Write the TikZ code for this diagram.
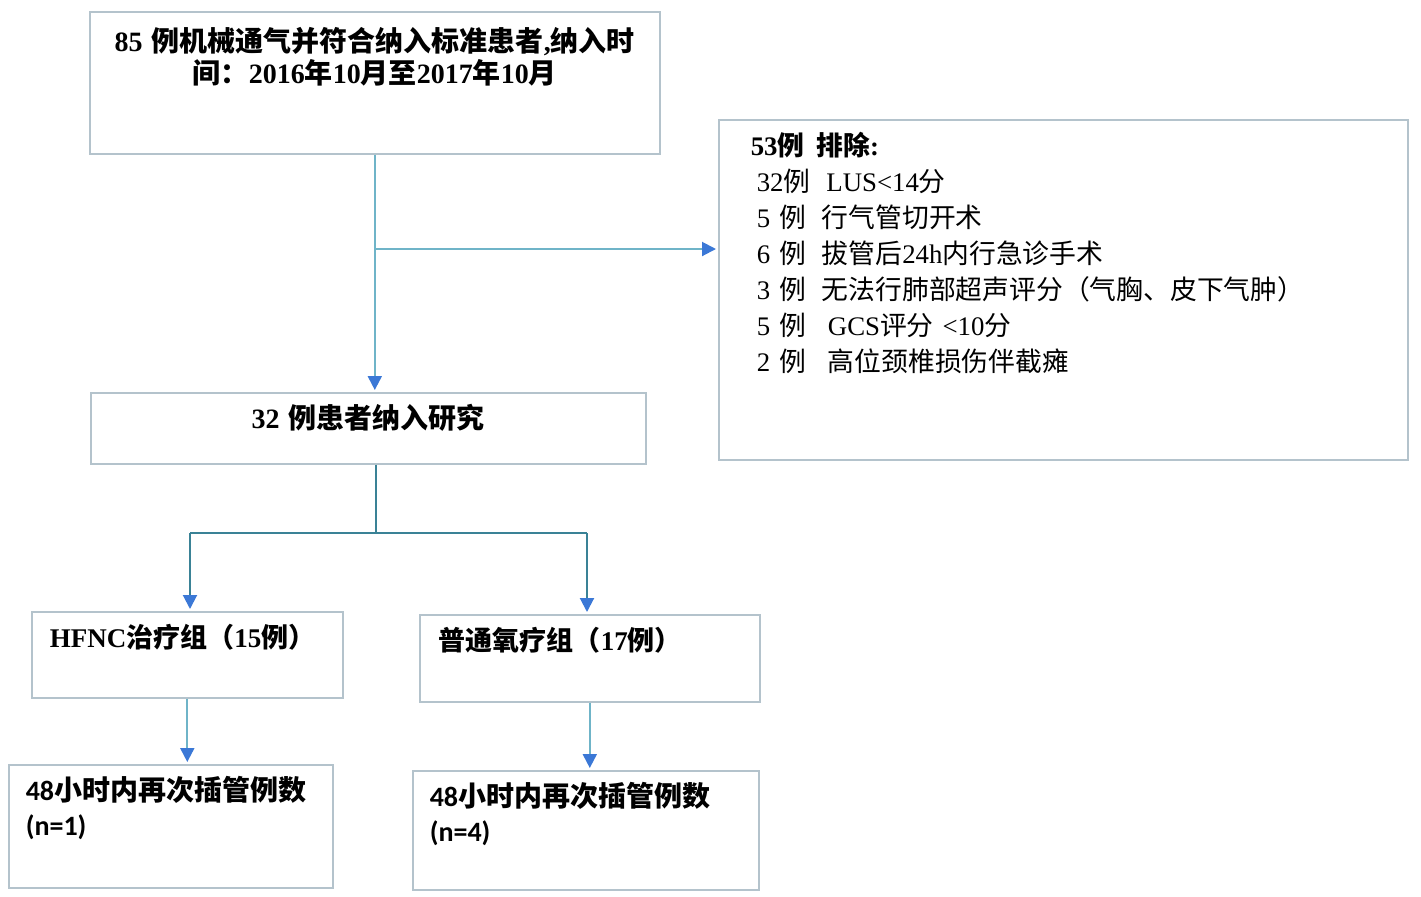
\documentclass[tikz,border=0pt]{standalone}
\usepackage{fontspec}
\usepackage{tikz}
\usetikzlibrary{arrows.meta}
\setmainfont{Liberation Serif}
\newfontfamily\cjk{Noto Sans CJK SC}
\newfontfamily\calib{Carlito}
\newcommand{\zh}[1]{{\cjk #1}}
\definecolor{boxgray}{HTML}{B4C3CC}
\definecolor{lineteal}{HTML}{6FB4C8}
\definecolor{linedark}{HTML}{3A8296}
\definecolor{tipblue}{HTML}{3B78D6}

\begin{document}
\begin{tikzpicture}[x=0.5pt, y=-0.5pt,
            every node/.style = {shape=rectangle, draw=boxgray, line width=0.8pt,
                                 anchor=north west, inner ysep=0pt, text height=18pt},
            flow/.style = {line width=1pt, shorten >=1pt,
                           -{Triangle[width=7pt,length=7pt,color=tipblue]}}]
            \useasboundingbox (0,0) rectangle (1421,896);
            \node (n85) [text width=275pt, inner xsep=5pt, align=center,
                         text height=20pt, text depth=51pt,
                         font=\fontsize{14}{16}\selectfont\bfseries] at (89,11)
                {85 \zh{例机械通气并符合纳入标准患者},\zh{纳入时}\\
                 \zh{间：}2016\zh{年}10\zh{月至}2017\zh{年}10\zh{月}};
            \node (nex) [text width=312.5pt, inner xsep=16pt, align=left,
                         text depth=152pt, font=\fontsize{13.4}{18}\selectfont] at (718,119)
                {{\bfseries 53\zh{例}\hspace{6pt}\zh{排除}:}\\
                 \hspace*{3pt}32\zh{例}\hspace{8pt}LUS<14\zh{分}\\
                 \hspace*{3pt}5 \zh{例}\hspace{8pt}\zh{行气管切开术}\\
                 \hspace*{3pt}6 \zh{例}\hspace{8pt}\zh{拔管后}24h\zh{内行急诊手术}\\
                 \hspace*{3pt}3 \zh{例}\hspace{8pt}\zh{无法行肺部超声评分（气胸、皮下气肿）}\\
                 \hspace*{3pt}5 \zh{例}\hspace{11pt}GCS\zh{评分} <10\zh{分}\\
                 \hspace*{3pt}2 \zh{例}\hspace{11pt}\zh{高位颈椎损伤伴截瘫}};
            \node (n32) [text width=267.5pt, inner xsep=5pt, align=center,
                         text depth=17.5pt, font=\fontsize{14}{16}\selectfont\bfseries] at (90,392)
                {32 \zh{例患者纳入研究}};
            \node (hfnc) [text width=137.5pt, inner xsep=9pt, align=left,
                          text depth=25pt, font=\fontsize{13.5}{16}\selectfont\bfseries] at (31,611)
                {HFNC\zh{治疗组（}15\zh{例）}};
            \node (o2) [text width=151pt, inner xsep=9.5pt, align=left,
                        text depth=25.5pt, font=\fontsize{13.5}{16}\selectfont\bfseries] at (419,614)
                {\zh{普通氧疗组（}17\zh{例）}};
            \node (bl) [text width=145pt, inner xsep=8.5pt, align=left,
                        text depth=43.5pt, font=\fontsize{14}{17.5}\selectfont\bfseries\calib] at (8,764)
                {48\zh{小时内再次插管例数}\\(n=1)};
            \node (br) [text width=156pt, inner xsep=8.5pt, align=left,
                        text depth=41.5pt, font=\fontsize{14}{17.5}\selectfont\bfseries\calib] at (412,770)
                {48\zh{小时内再次插管例数}\\(n=4)};
            % connectors
            \coordinate (split) at (374,249);
            \coordinate (fork) at (376,533);
            \coordinate (forkL) at (190,533);
            \coordinate (forkR) at (587,533);
            \draw[flow, lineteal] (n85.south) -- (n85.south |- n32.north);
            \draw[flow, lineteal] (split) -- (split -| nex.west);
            \draw[linedark, line width=1pt] (fork |- n32.south) -- (fork);
            \draw[linedark, line width=1pt] (forkL) -- (forkR);
            \draw[flow, linedark] (forkL) -- (forkL |- hfnc.north);
            \draw[flow, linedark] (forkR) -- (forkR |- o2.north);
            \draw[flow, lineteal] (hfnc.south) -- (hfnc.south |- bl.north);
            \draw[flow, lineteal] (o2.south) -- (o2.south |- br.north);
        \end{tikzpicture}
\end{document}
